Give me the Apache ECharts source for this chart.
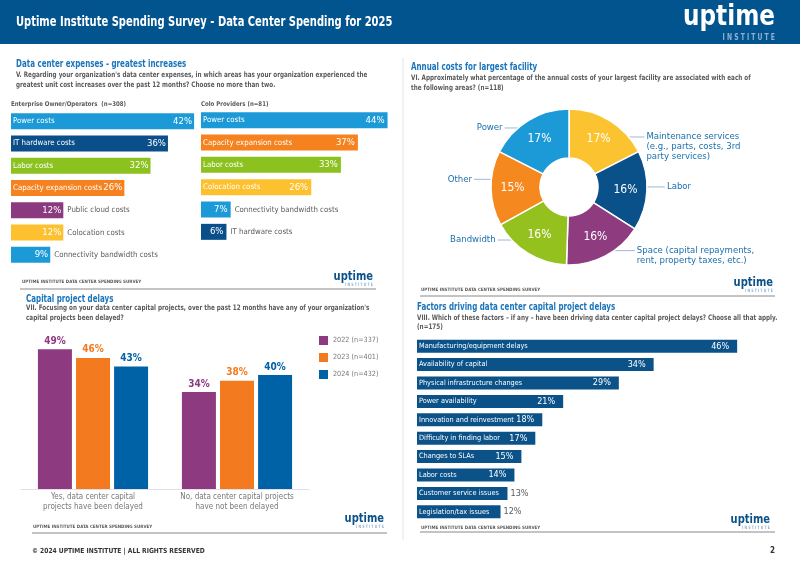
<!DOCTYPE html>
<html>
<head>
<meta charset="utf-8">
<script src="https://cdn.jsdelivr.net/npm/echarts@6/dist/echarts.min.js"></script>
<style>
  html, body { margin: 0; padding: 0; background: #fff; }
  #chart { width: 800px; height: 566px; }
</style>
</head>
<body>
<div id="chart"></div>
<script>
// ---- data ----
const entCats = ['Power costs', 'IT hardware costs', 'Labor costs', 'Capacity expansion costs', 'Public cloud costs', 'Colocation costs', 'Connectivity bandwidth costs'];
const entVals = [42, 36, 32, 26, 12, 12, 9];

const coloCats = ['Power costs', 'Capacity expansion costs', 'Labor costs', 'Colocation costs', 'Connectivity bandwidth costs', 'IT hardware costs'];
const coloVals = [44, 37, 33, 26, 7, 6];

const pieCats = ['Maintenance services\n(e.g., parts, costs, 3rd\nparty services)', 'Labor', 'Space (capital repayments,\nrent, property taxes, etc.)', 'Bandwidth', 'Other', 'Power'];
const pieVals = [17, 16, 16, 16, 15, 17];

const delayCats = ['Yes, data center capital\nprojects have been delayed', 'No, data center capital projects\nhave not been delayed'];
const delayYears = ['2022 (n=337)', '2023 (n=401)', '2024 (n=432)'];
const delay2022 = [49, 34];
const delay2023 = [46, 38];
const delay2024 = [43, 40];

const factorCats = ['Manufacturing/equipment delays', 'Availability of capital', 'Physical infrastructure changes', 'Power availability', 'Innovation and reinvestment', 'Difficulty in finding labor', 'Changes to SLAs', 'Labor costs', 'Customer service issues', 'Legislation/tax issues'];
const factorVals = [46, 34, 29, 21, 18, 17, 15, 14, 13, 12];

// ---- styles ----
const FONT = '"Liberation Sans Narrow", "DejaVu Sans Condensed", "Liberation Sans", sans-serif';
const BLUE_T = '#1b75bb';
const GREY = '#5a5a5a';
const costColors = {
  'Power costs': '#1b9ad7',
  'IT hardware costs': '#0b4f8a',
  'Labor costs': '#8cc21f',
  'Capacity expansion costs': '#f5821f',
  'Public cloud costs': '#8b3a7f',
  'Colocation costs': '#fdc02f',
  'Connectivity bandwidth costs': '#1b9ad7'
};
const pieColors = ['#fcc330', '#0a5189', '#8e3b80', '#95c11f', '#f5891f', '#1b9ad7'];
// nudges for the outer pie labels [dx, dy, line offset from label top or -1 for middle]
const pieLabelShift = [[18, 29, 5], [0, -4, -1], [13, -3, 5], [-14, -16, -1], [1, -9, -1], [-7, 10, -1]];
const PIE_C = [569, 187], PIE_R = [29, 78];
const yearColors = ['#8e3a80', '#f47a20', '#0062a6'];
const factorColor = '#0b5289';

// text helper; sx squeezes the text horizontally to mimic the condensed face
function txt(x, y, text, size, color, weight, align, sx) {
  return {
    type: 'text', x: x, y: y, scaleX: sx || 1, silent: true,
    style: {
      text: text, fill: color,
      font: (weight || 'bold') + ' ' + size + 'px ' + FONT,
      align: align || 'left', verticalAlign: 'middle'
    }
  };
}
function hline(x1, x2, y, color, w) {
  return { type: 'line', silent: true, shape: { x1: x1, y1: y, x2: x2, y2: y }, style: { stroke: color, lineWidth: w || 1 } };
}
function logo(right, y, big, color, sub) {
  if (big) {
    return [txt(right, y, 'uptime', 28, color, 'bold', 'right', 0.92), txt(right, y + 20, 'I N S T I T U T E', 9, sub, 'bold', 'right', 0.75)];
  }
  return [txt(right, y, 'uptime', 12, color, 'bold', 'right', 0.92), txt(right, y + 8, 'I N S T I T U T E', 4.5, sub, 'bold', 'right', 0.8)];
}
const FOOT = 'UPTIME INSTITUTE DATA CENTER SPENDING SURVEY';
const SX_T = 0.72, SX_Q = 0.84;

// horizontal bar pair: visible bars with value labels + transparent bars with name labels
function hbars(idx, cats, vals, colorOf, bw, nameInside, valInside, nameSize, valSize, valDist) {
  const bars = {
    type: 'bar', xAxisIndex: idx, yAxisIndex: idx, barWidth: bw, silent: true,
    data: vals.map((v, i) => ({
      value: v,
      itemStyle: { color: colorOf(cats[i]) },
      label: valInside(v) ? {} : { position: 'right', color: GREY, distance: 3 }
    })),
    label: { show: true, position: 'insideRight', formatter: '{c}%', color: '#fff', fontSize: valSize, fontFamily: FONT, distance: valDist }
  };
  const names = {
    type: 'bar', xAxisIndex: idx, yAxisIndex: idx, barWidth: bw, barGap: '-100%', silent: true,
    itemStyle: { color: 'transparent' },
    data: vals.map((v) => ({
      value: v,
      label: nameInside(v) ? {} : { position: 'right', color: GREY, distance: 4 }
    })),
    label: { show: true, position: 'insideLeft', formatter: '{b}', color: '#fff', fontSize: nameSize, fontFamily: FONT, distance: 2 }
  };
  return [bars, names];
}

// move a pie label and draw a flat leader from the ring edge to it
function pieLabelLayout(p) {
  const s = pieLabelShift[p.dataIndex];
  const r = p.labelRect;
  const left = r.x + s[0], top = r.y + s[1];
  const onRight = left + r.width / 2 > PIE_C[0];
  const ly = s[2] < 0 ? top + r.height / 2 : top + s[2];
  const dy = ly - PIE_C[1];
  const half = Math.sqrt(Math.max(PIE_R[1] * PIE_R[1] - dy * dy, 0));
  const x0 = onRight ? PIE_C[0] + half - 2 : PIE_C[0] - half + 2;
  const x1 = onRight ? left - 2 : left + r.width + 2;
  return { dx: s[0], dy: s[1], labelLinePoints: [[x0, ly], [x0, ly], [x1, ly]] };
}

const chart = echarts.init(document.getElementById('chart'), null, { renderer: 'canvas' });

const graphics = [
  { type: 'rect', silent: true, shape: { x: 0, y: 0, width: 800, height: 44 }, style: { fill: '#01548e' } },
  txt(16, 22, 'Uptime Institute Spending Survey - Data Center Spending for 2025', 14, '#fff', 'bold', 'left', 0.79),
  ...logo(775, 18, true, '#fff', '#8fb2d3'),
  { type: 'line', silent: true, shape: { x1: 403, y1: 58, x2: 403, y2: 540 }, style: { stroke: '#e3e3e3', lineWidth: 1 } },

  txt(16, 64, 'Data center expenses - greatest increases', 11, BLUE_T, 'bold', 'left', SX_T),
  txt(16, 75, 'V. Regarding your organization\'s data center expenses, in which areas has your organization experienced the', 7.5, GREY, 'bold', 'left', SX_Q),
  txt(16, 85, 'greatest unit cost increases over the past 12 months? Choose no more than two.', 7.5, GREY, 'bold', 'left', SX_Q),
  txt(11, 104, 'Enterprise Owner/Operators  (n=308)', 6.5, GREY, 'bold', 'left', 0.93),
  txt(201, 104, 'Colo Providers (n=81)', 6.5, GREY, 'bold', 'left', 0.93),
  txt(22, 282, FOOT, 4.5, GREY),
  ...logo(373, 277, false, '#0b5289', '#8fb2d3'),
  hline(20, 376, 289, '#888', 1),

  txt(411, 67, 'Annual costs for largest facility', 11, BLUE_T, 'bold', 'left', SX_T),
  txt(411, 78, 'VI. Approximately what percentage of the annual costs of your largest facility are associated with each of', 7.5, GREY, 'bold', 'left', SX_Q),
  txt(411, 88, 'the following areas? (n=118)', 7.5, GREY, 'bold', 'left', SX_Q),
  txt(421, 290, FOOT, 4.5, GREY),
  ...logo(773, 283, false, '#0b5289', '#8fb2d3'),
  hline(420, 775, 296, '#888', 1),

  txt(26, 299, 'Capital project delays', 11, BLUE_T, 'bold', 'left', SX_T),
  txt(26, 308, 'VII. Focusing on your data center capital projects, over the past 12 months have any of your organization\'s', 7.5, GREY, 'bold', 'left', SX_Q),
  txt(26, 318, 'capital projects been delayed?', 7.5, GREY, 'bold', 'left', SX_Q),
  txt(33, 527, FOOT, 4.5, GREY),
  ...logo(384, 519, false, '#0b5289', '#8fb2d3'),
  hline(32, 387, 533, '#888', 1),

  txt(417, 307, 'Factors driving data center capital project delays', 11, BLUE_T, 'bold', 'left', SX_T),
  txt(417, 318, 'VIII. Which of these factors \u2013 if any \u2013 have been driving data center capital project delays? Choose all that apply.', 7.5, GREY, 'bold', 'left', SX_Q),
  txt(417, 327, '(n=175)', 7.5, GREY, 'bold', 'left', SX_Q),
  txt(421, 528, FOOT, 4.5, GREY),
  ...logo(770, 520, false, '#0b5289', '#8fb2d3'),
  hline(420, 775, 532, '#888', 1),

  txt(32, 551, '\u00a9 2024 UPTIME INSTITUTE | ALL RIGHTS RESERVED', 7, '#333', 'bold', 'left', 0.95),
  txt(775, 551, '2', 8, '#333', 'bold', 'right')
];

const hidden = { show: false };

const option = {
  animation: false,
  textStyle: { fontFamily: FONT },
  graphic: graphics,
  grid: [
    { left: 11, top: 110, width: 218, height: 156 },
    { left: 201, top: 109, width: 212, height: 134 },
    { left: 417, top: 337, width: 348, height: 184 },
    { left: 21, top: 318, width: 288, height: 171 }
  ],
  xAxis: [
    { gridIndex: 0, type: 'value', min: 0, max: 50, show: false },
    { gridIndex: 1, type: 'value', min: 0, max: 50, show: false },
    { gridIndex: 2, type: 'value', min: 0, max: 50, show: false },
    {
      gridIndex: 3, type: 'category', data: delayCats,
      axisTick: hidden, axisLine: { lineStyle: { color: '#eadbe8' } },
      axisLabel: { color: '#777', fontSize: 8, lineHeight: 10, margin: 3, interval: 0, fontFamily: FONT }
    }
  ],
  yAxis: [
    { gridIndex: 0, type: 'category', data: entCats, inverse: true, show: false },
    { gridIndex: 1, type: 'category', data: coloCats, inverse: true, show: false },
    { gridIndex: 2, type: 'category', data: factorCats, inverse: true, show: false },
    { gridIndex: 3, type: 'value', min: 0, max: 60, show: false }
  ],
  legend: {
    data: delayYears, orient: 'vertical', left: 314, top: 331,
    icon: 'rect', itemWidth: 9, itemHeight: 9, itemGap: 8,
    selectedMode: false,
    textStyle: { color: '#777', fontSize: 7.2, fontFamily: FONT }
  },
  series: [
    ...hbars(0, entCats, entVals, (c) => costColors[c], 16, (v) => v >= 20, () => true, 7.8, 9.5, 2),
    ...hbars(1, coloCats, coloVals, (c) => costColors[c], 16, (v) => v >= 20, () => true, 7.8, 9.5, 3),
    ...hbars(2, factorCats, factorVals, () => factorColor, 13, () => true, (v) => v >= 14, 7.3, 9, 8),
    ...[delay2022, delay2023, delay2024].map((vals, i) => ({
      name: delayYears[i], type: 'bar', xAxisIndex: 3, yAxisIndex: 3,
      barWidth: 34, barGap: '12%', silent: true,
      itemStyle: { color: yearColors[i] },
      data: vals,
      label: { show: true, position: 'top', formatter: '{c}%', color: yearColors[i], fontSize: 10, fontWeight: 'bold', fontFamily: FONT, distance: 3 }
    })),
    {
      type: 'pie', center: PIE_C, radius: PIE_R, startAngle: 90, silent: true,
      itemStyle: { borderColor: '#fff', borderWidth: 1.5 },
      label: { show: true, position: 'inside', formatter: '{c}%', color: '#fff', fontSize: 12, fontFamily: FONT },
      labelLine: hidden,
      data: pieVals.map((v, i) => ({ value: v, name: pieCats[i], itemStyle: { color: pieColors[i] } }))
    },
    {
      type: 'pie', center: PIE_C, radius: PIE_R, startAngle: 90, silent: true,
      itemStyle: { color: 'transparent' },
      label: { show: true, position: 'outside', formatter: '{b}', color: '#1a6fae', fontSize: 9.5, lineHeight: 10, fontFamily: FONT },
      labelLine: { show: true, length: 3, length2: 12, lineStyle: { color: '#9fb9d4', width: 1 } },
      labelLayout: pieLabelLayout,
      data: pieVals.map((v, i) => ({ value: v, name: pieCats[i] }))
    }
  ]
};

chart.setOption(option);
</script>
</body>
</html>
